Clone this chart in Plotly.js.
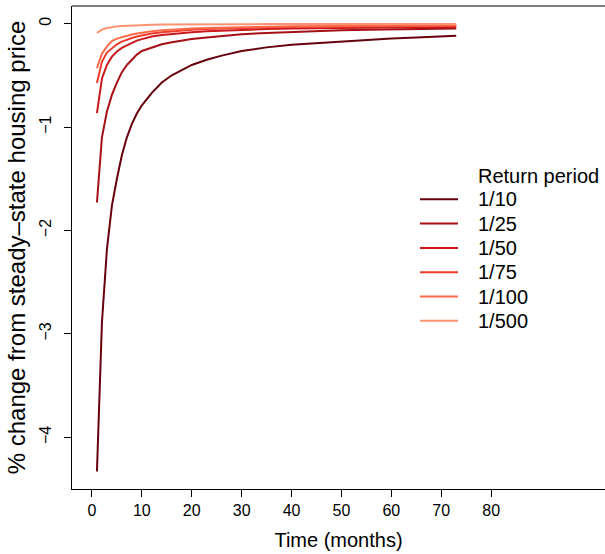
<!DOCTYPE html>
<html>
<head>
<meta charset="utf-8">
<script src="https://cdn.plot.ly/plotly-3.0.1.min.js"></script>
<style>
  html, body { margin: 0; padding: 0; background: #fff; }
  #chart { width: 605px; height: 554px; }
</style>
</head>
<body>
<div id="chart"></div>
<script>
// ---- data ----
const months = [1,2,3,4,5,6,7,8,9,10,12,14,16,18,20,23,26,30,35,40,45,50,55,60,65,73];

const rp10  = [-4.33,-2.89,-2.18,-1.76,-1.50,-1.27,-1.10,-0.97,-0.87,-0.79,-0.67,-0.57,-0.50,-0.45,-0.40,-0.35,-0.31,-0.265,-0.23,-0.205,-0.19,-0.172,-0.16,-0.145,-0.135,-0.117];
const rp25  = [-1.73,-1.10,-0.85,-0.69,-0.57,-0.47,-0.40,-0.345,-0.30,-0.265,-0.23,-0.20,-0.18,-0.165,-0.15,-0.135,-0.12,-0.103,-0.09,-0.08,-0.072,-0.065,-0.06,-0.055,-0.052,-0.048];
const rp50  = [-0.865,-0.53,-0.40,-0.32,-0.27,-0.235,-0.21,-0.185,-0.165,-0.15,-0.125,-0.11,-0.10,-0.09,-0.085,-0.075,-0.068,-0.06,-0.053,-0.048,-0.044,-0.041,-0.039,-0.037,-0.036,-0.034];
const rp75  = [-0.575,-0.37,-0.28,-0.236,-0.20,-0.175,-0.155,-0.14,-0.125,-0.115,-0.095,-0.083,-0.073,-0.066,-0.06,-0.053,-0.048,-0.043,-0.038,-0.034,-0.031,-0.029,-0.027,-0.025,-0.024,-0.022];
const rp100 = [-0.43,-0.29,-0.22,-0.17,-0.145,-0.13,-0.118,-0.105,-0.095,-0.087,-0.075,-0.065,-0.058,-0.052,-0.047,-0.042,-0.038,-0.034,-0.03,-0.027,-0.025,-0.022,-0.021,-0.019,-0.018,-0.016];
const rp500 = [-0.09,-0.058,-0.042,-0.033,-0.027,-0.023,-0.02,-0.017,-0.015,-0.014,-0.011,-0.01,-0.009,-0.008,-0.007,-0.0065,-0.006,-0.0055,-0.005,-0.0048,-0.0046,-0.0044,-0.0042,-0.004,-0.004,-0.004];

const seriesNames = ["1/10","1/25","1/50","1/75","1/100","1/500"];
const seriesValues = [rp10, rp25, rp50, rp75, rp100, rp500];
const seriesColors = ["#67000d","#a50f15","#cb181d","#ef3b2c","#fb6a4a","#fc9272"];

const xTicks = [0,10,20,30,40,50,60,70,80];
const yTicks = [0,-1,-2,-3,-4];
const legendTitle = "Return period";

// ---- figure geometry (pixels) ----
const W = 605, H = 554;
const M = {l: 72, r: 0, t: 6, b: 65};
const PW = W - M.l - M.r, PH = H - M.t - M.b;
const px2x = px => (px - M.l) / PW;
const py2y = py => (H - M.b - py) / PH;

const FONT = "Liberation Sans, Arial, Helvetica, sans-serif";

const traces = seriesNames.map((name, i) => ({
  x: months,
  y: seriesValues[i],
  type: "scatter",
  mode: "lines",
  name: name,
  line: {color: seriesColors[i], width: 2},
  showlegend: false,
  hoverinfo: "x+y+name"
}));

// manual legend (R-style, no box)
const shapes = [
  // top border of the R box
  {type: "line", xref: "paper", yref: "paper", x0: 0, x1: 1.05, y0: 1, y1: 1,
   line: {color: "#000", width: 1}}
];
const annotations = [
  {xref: "paper", yref: "paper", x: px2x(476), y: py2y(176), xanchor: "left", yanchor: "middle",
   text: legendTitle, showarrow: false, font: {family: FONT, size: 20, color: "#000"}}
];
const legTop = 199.3, legStep = 24.3;
seriesNames.forEach((name, i) => {
  const py = legTop + i * legStep;
  shapes.push({type: "line", xref: "paper", yref: "paper",
    x0: px2x(420), x1: px2x(458), y0: py2y(py), y1: py2y(py),
    line: {color: seriesColors[i], width: 2}});
  annotations.push({xref: "paper", yref: "paper", x: px2x(476), y: py2y(py),
    xanchor: "left", yanchor: "middle", text: name, showarrow: false,
    font: {family: FONT, size: 20, color: "#000"}});
});

const layout = {
  width: W, height: H,
  margin: M,
  paper_bgcolor: "#fff", plot_bgcolor: "#fff",
  font: {family: FONT, color: "#000"},
  showlegend: false,
  xaxis: {
    range: [-4, -4 + PW / 4.99],
    tickmode: "array", tickvals: xTicks, ticktext: xTicks.map(String),
    ticks: "outside", ticklen: 7, tickwidth: 1, tickcolor: "#000",
    showline: true, linecolor: "#000", linewidth: 1,
    showgrid: false, zeroline: false,
    tickfont: {family: FONT, size: 16, color: "#000"},
    title: {text: "Time (months)", font: {family: FONT, size: 20, color: "#000"}, standoff: 14},
    automargin: false
  },
  yaxis: {
    range: [-4.50, 0.17],
    tickmode: "array", tickvals: yTicks,
    ticks: "outside", ticklen: 7, tickwidth: 1, tickcolor: "#000",
    tickangle: -90,
    ticklabelstandoff: 7,
    showline: true, linecolor: "#000", linewidth: 1,
    showgrid: false, zeroline: false,
    tickfont: {family: FONT, size: 16, color: "#000"},
    title: {text: "% change from steady–state housing price", font: {family: FONT, size: 24, color: "#000"}, standoff: 4},
    automargin: false
  },
  shapes: shapes,
  annotations: annotations
};

Plotly.newPlot("chart", traces, layout, {displayModeBar: false, staticPlot: true});
</script>
</body>
</html>
